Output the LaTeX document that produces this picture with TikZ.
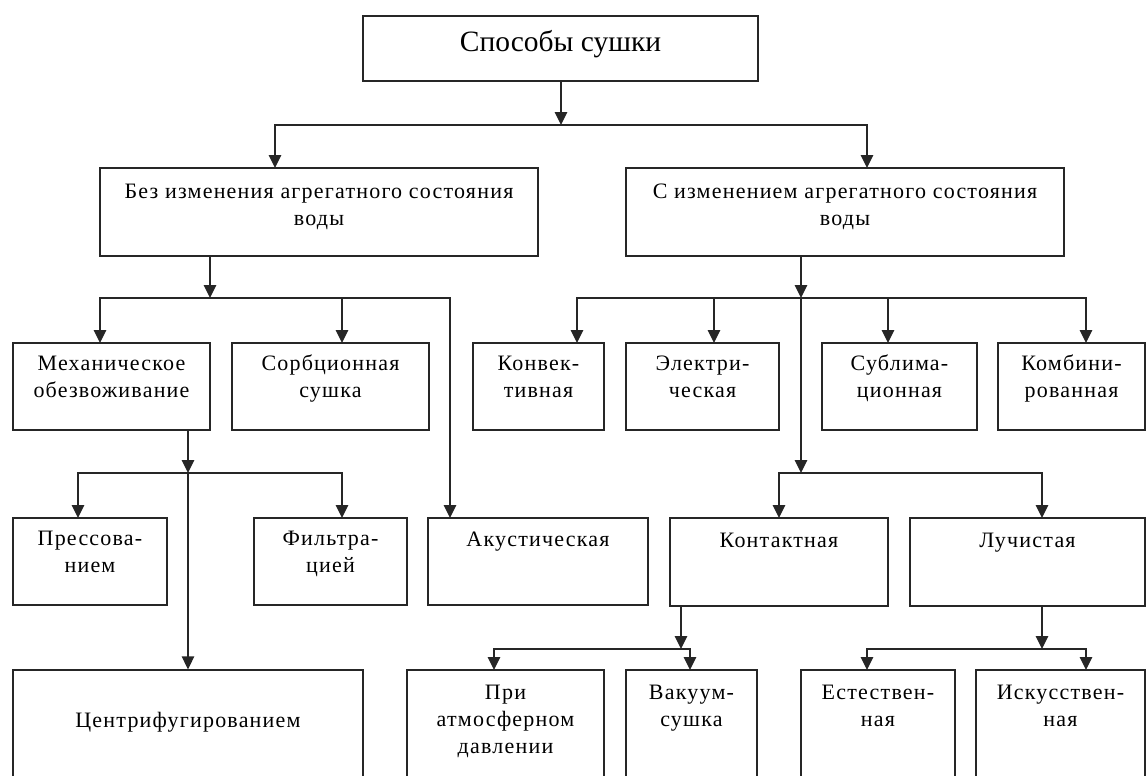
\documentclass[tikz,border=0pt]{standalone}
\usepackage{fontspec}
\setmainfont{Liberation Serif}
\newfontfamily\spacedfont[LetterSpace=5.5]{Liberation Serif}
\usetikzlibrary{arrows.meta}
\begin{document}
\begin{tikzpicture}[x=1pt,y=-1pt,
  box/.style={draw=black!85, line width=1.3pt, inner sep=0pt},
  txt/.style={font=\spacedfont\fontsize{22}{27}\selectfont, align=center, inner sep=0pt, anchor=north},
  ttl/.style={font=\fontsize{29.5}{34}\selectfont, align=center, inner sep=0pt, anchor=north},
  arr/.style={draw=black!85, line width=1.3pt, -{Triangle[length=13pt,width=12.5pt]}}]
\useasboundingbox (0,0) rectangle (1146,776);
\clip (0,0) rectangle (1146,776);
% boxes
\node[box, minimum width=395pt, minimum height=65pt] (title) at (560.5,48.5) {};
\node[box, minimum width=438pt, minimum height=88pt] (bez) at (319,212) {};
\node[box, minimum width=438pt, minimum height=88pt] (siz) at (845,212) {};
\node[box, minimum width=197pt, minimum height=87pt] (mech) at (111.5,386.5) {};
\node[box, minimum width=197pt, minimum height=87pt] (sorb) at (330.5,386.5) {};
\node[box, minimum width=131pt, minimum height=87pt] (konv) at (538.5,386.5) {};
\node[box, minimum width=153pt, minimum height=87pt] (elek) at (702.5,386.5) {};
\node[box, minimum width=155pt, minimum height=87pt] (subl) at (899.5,386.5) {};
\node[box, minimum width=147pt, minimum height=87pt] (komb) at (1071.5,386.5) {};
\node[box, minimum width=154pt, minimum height=87pt] (press) at (90,561.5) {};
\node[box, minimum width=153pt, minimum height=87pt] (filt) at (330.5,561.5) {};
\node[box, minimum width=220pt, minimum height=87pt] (akus) at (538,561.5) {};
\node[box, minimum width=218pt, minimum height=88pt] (kont) at (779,562) {};
\node[box, minimum width=235pt, minimum height=88pt] (luch) at (1027.5,562) {};
\node[box, minimum width=350pt, minimum height=130pt] (centr) at (188,735) {};
\node[box, minimum width=197pt, minimum height=130pt] (atm) at (505.5,735) {};
\node[box, minimum width=131pt, minimum height=130pt] (vak) at (691.5,735) {};
\node[box, minimum width=154pt, minimum height=130pt] (est) at (878,735) {};
\node[box, minimum width=169pt, minimum height=130pt] (isk) at (1060.5,735) {};
% texts
\node[ttl] (t-title) at ([yshift=-12pt]title.north) {\strut Способы сушки};
\node[txt] (t-bez) at ([yshift=-12pt]bez.north) {\strut Без изменения агрегатного состояния\\воды};
\node[txt] (t-siz) at ([yshift=-12pt]siz.north) {\strut С изменением агрегатного состояния\\воды};
\node[txt] (t-mech) at ([yshift=-9pt]mech.north) {\strut Механическое\\обезвоживание};
\node[txt] (t-sorb) at ([yshift=-9pt]sorb.north) {\strut Сорбционная\\сушка};
\node[txt] (t-konv) at ([yshift=-9pt]konv.north) {\strut Конвек-\\тивная};
\node[txt] (t-elek) at ([yshift=-9pt]elek.north) {\strut Электри-\\ческая};
\node[txt] (t-subl) at ([yshift=-9pt]subl.north) {\strut Сублима-\\ционная};
\node[txt] (t-komb) at ([yshift=-9pt]komb.north) {\strut Комбини-\\рованная};
\node[txt] (t-press) at ([yshift=-9pt]press.north) {\strut Прессова-\\нием};
\node[txt] (t-filt) at ([yshift=-9pt]filt.north) {\strut Фильтра-\\цией};
\node[txt] (t-akus) at ([yshift=-10pt]akus.north) {\strut Акустическая};
\node[txt] (t-kont) at ([yshift=-11pt]kont.north) {\strut Контактная};
\node[txt] (t-luch) at ([yshift=-11pt]luch.north) {\strut Лучистая};
\node[txt] (t-centr) at ([yshift=-39pt]centr.north) {\strut Центрифугированием};
\node[txt] (t-atm) at ([yshift=-11pt]atm.north) {\strut При\\атмосферном\\давлении};
\node[txt] (t-vak) at ([yshift=-11pt]vak.north) {\strut Вакуум-\\сушка};
\node[txt] (t-est) at ([yshift=-11pt]est.north) {\strut Естествен-\\ная};
\node[txt] (t-isk) at ([yshift=-11pt]isk.north) {\strut Искусствен-\\ная};
% junctions and arrow targets
\coordinate (j1) at (561,125);
\coordinate (j2) at (210,298);
\coordinate (j3) at (801,298);
\coordinate (j4) at (801,473);
\coordinate (j5) at (188,473);
\coordinate (j6) at (681,649);
\coordinate (j7) at (1042,649);
\coordinate (c-bez) at (275,168);
\coordinate (c-siz) at (867,168);
\coordinate (c-mech) at (100,343);
\coordinate (c-sorb) at (342,343);
\coordinate (c-akus) at (450,518);
\coordinate (c-konv) at (577,343);
\coordinate (c-elek) at (714,343);
\coordinate (c-subl) at (888,343);
\coordinate (c-komb) at (1086,343);
\coordinate (c-kont) at (779,518);
\coordinate (c-luch) at (1042,518);
\coordinate (c-press) at (78,518);
\coordinate (c-filt) at (342,518);
\coordinate (c-atm) at (494,670);
\coordinate (c-vak) at (690,670);
\coordinate (c-est) at (867,670);
\coordinate (c-isk) at (1086,670);
% connectors
\draw[arr] (title.south -| j1) -- (j1);
\draw[arr] (j1) -| (c-bez);
\draw[arr] (j1) -| (c-siz);
\draw[arr] (bez.south -| j2) -- (j2);
\draw[arr] (j2) -| (c-mech);
\draw[arr] (j2) -| (c-sorb);
\draw[arr] (j2) -| (c-akus);
\draw[arr] (siz.south -| j3) -- (j3);
\draw[arr] (j3) -| (c-konv);
\draw[arr] (j3) -| (c-elek);
\draw[arr] (j3) -| (c-subl);
\draw[arr] (j3) -| (c-komb);
\draw[arr] (j3) -- (j4);
\draw[arr] (j4) -| (c-kont);
\draw[arr] (j4) -| (c-luch);
\draw[arr] (mech.south -| j5) -- (j5);
\draw[arr] (j5) -| (c-press);
\draw[arr] (j5) -| (c-filt);
\draw[arr] (j5) -- (centr.north);
\draw[arr] (kont.south -| j6) -- (j6);
\draw[arr] (j6) -| (c-atm);
\draw[arr] (j6) -| (c-vak);
\draw[arr] (luch.south -| j7) -- (j7);
\draw[arr] (j7) -| (c-est);
\draw[arr] (j7) -| (c-isk);
\end{tikzpicture}
\end{document}
